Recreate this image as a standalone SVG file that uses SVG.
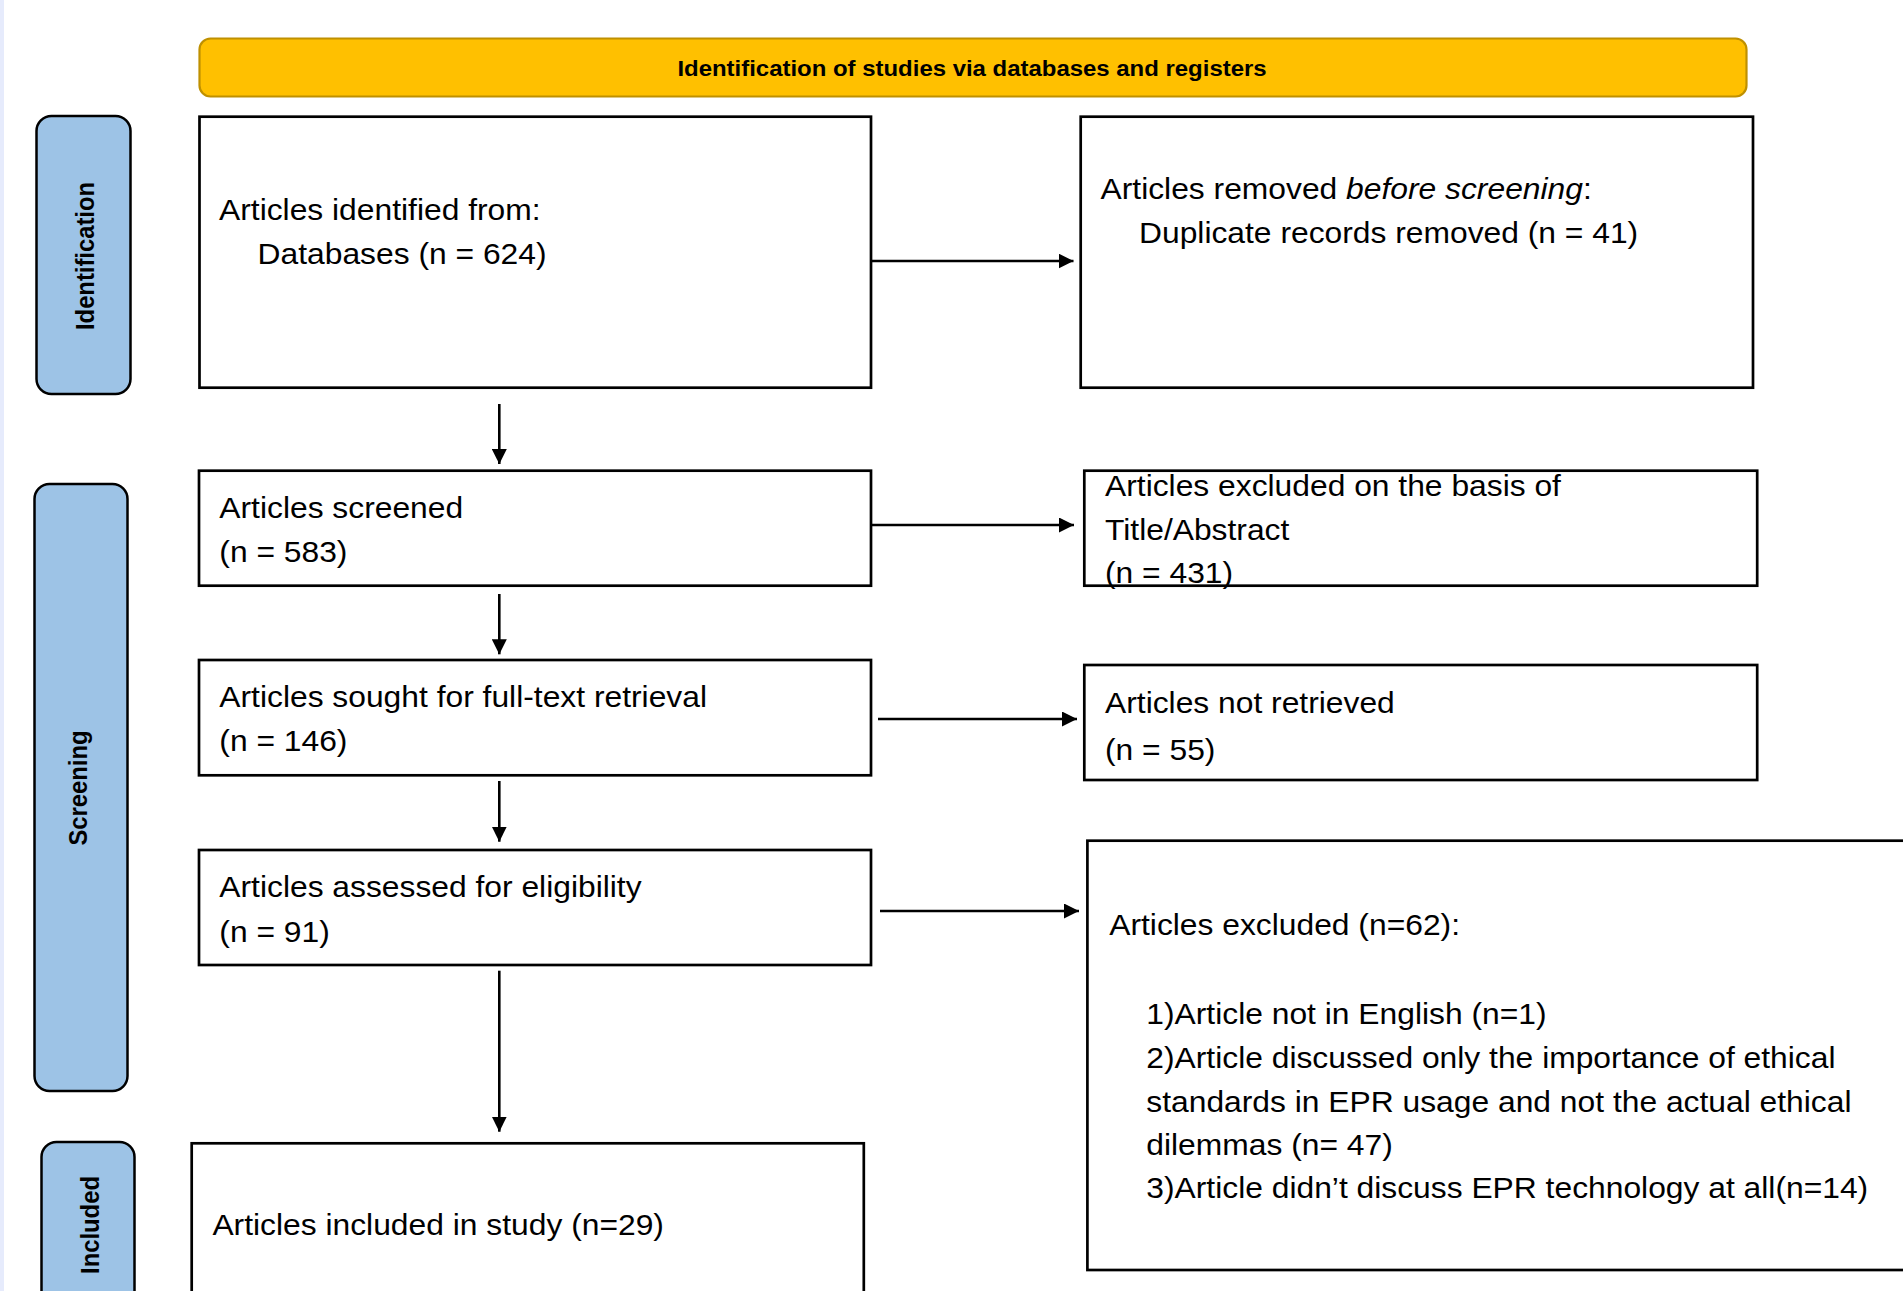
<svg xmlns="http://www.w3.org/2000/svg" width="1903" height="1291" viewBox="0 0 1903 1291">
  <style>
    .box { fill: #ffffff; stroke: #000000; stroke-width: 2.7; }
    .side { fill: #9dc3e6; stroke: #000000; stroke-width: 2.5; }
    .bar { fill: #ffc000; stroke: #bf9000; stroke-width: 2.2; }
    .t { font-family: "Liberation Sans", Arial, sans-serif; font-size: 30px; fill: #000000; }
    .lbl { font-family: "Liberation Sans", Arial, sans-serif; font-size: 23.8px; font-weight: bold; fill: #000000; text-anchor: middle; }
    .ttl { font-family: "Liberation Sans", Arial, sans-serif; font-size: 22.6px; font-weight: bold; fill: #000000; text-anchor: middle; }
    .con { stroke: #000000; stroke-width: 2.6; fill: none; marker-end: url(#ah); }
  </style>
  <defs>
    <marker id="ah" markerUnits="userSpaceOnUse" markerWidth="15" markerHeight="15" refX="15" refY="7.5" orient="auto">
      <path d="M0,0 L15,7.5 L0,15 Z" fill="#000000"/>
    </marker>
  </defs>

  <rect x="0" y="0" width="1903" height="1291" fill="#ffffff"/>
  <rect x="0" y="0" width="4" height="1291" fill="#e6ebfc"/>

  <g id="header">
    <rect class="bar" x="199.5" y="38.5" width="1547" height="58" rx="11" ry="11"/>
    <text class="ttl" transform="translate(972,76) scale(1.06,1)">Identification of studies via databases and registers</text>
  </g>

  <g id="stage-identification">
    <rect class="side" x="36.5" y="116" width="94" height="278" rx="15" ry="15"/>
    <text class="lbl" transform="translate(94,256) scale(1.06,1) rotate(-90)">Identification</text>
  </g>
  <g id="stage-screening">
    <rect class="side" x="34.5" y="484" width="93" height="607" rx="15" ry="15"/>
    <text class="lbl" transform="translate(87,788) scale(1.06,1) rotate(-90)">Screening</text>
  </g>
  <g id="stage-included">
    <rect class="side" x="41.5" y="1142" width="93" height="180" rx="15" ry="15"/>
    <text class="lbl" transform="translate(99,1225) scale(1.06,1) rotate(-90)">Included</text>
  </g>

  <g id="identified">
    <rect class="box" x="199.5" y="116.7" width="671.5" height="271"/>
    <text class="t" transform="translate(219,220) scale(1.06,1)">Articles identified from:</text>
    <text class="t" transform="translate(257.6,264.3) scale(1.06,1)">Databases (n = 624)</text>
  </g>

  <g id="removed">
    <rect class="box" x="1080.7" y="116.7" width="672.3" height="271"/>
    <text class="t" transform="translate(1100.5,199) scale(1.06,1)">Articles removed <tspan font-style="italic">before screening</tspan>:</text>
    <text class="t" transform="translate(1139,242.5) scale(1.06,1)">Duplicate records removed (n = 41)</text>
  </g>

  <g id="screened">
    <rect class="box" x="199" y="470.7" width="672" height="115"/>
    <text class="t" transform="translate(219.3,518.3) scale(1.06,1)">Articles screened</text>
    <text class="t" transform="translate(219.3,561.7) scale(1.06,1)">(n = 583)</text>
  </g>

  <g id="excluded-title-abstract">
    <rect class="box" x="1084.3" y="470.7" width="672.9" height="115"/>
    <text class="t" transform="translate(1105,496) scale(1.06,1)">Articles excluded on the basis of</text>
    <text class="t" transform="translate(1105,540.3) scale(1.06,1)">Title/Abstract</text>
    <text class="t" transform="translate(1105,582.5) scale(1.06,1)">(n = 431)</text>
  </g>

  <g id="sought">
    <rect class="box" x="199" y="660" width="672" height="115.3"/>
    <text class="t" transform="translate(219.3,707.3) scale(1.06,1)">Articles sought for full-text retrieval</text>
    <text class="t" transform="translate(219.3,750.7) scale(1.06,1)">(n = 146)</text>
  </g>

  <g id="not-retrieved">
    <rect class="box" x="1084.3" y="665" width="672.9" height="115"/>
    <text class="t" transform="translate(1105,712.7) scale(1.06,1)">Articles not retrieved</text>
    <text class="t" transform="translate(1105,760) scale(1.06,1)">(n = 55)</text>
  </g>

  <g id="assessed">
    <rect class="box" x="199" y="850" width="672" height="115"/>
    <text class="t" transform="translate(219.3,896.5) scale(1.06,1)">Articles assessed for eligibility</text>
    <text class="t" transform="translate(219.3,941.5) scale(1.06,1)">(n = 91)</text>
  </g>

  <g id="excluded-full-text">
    <rect class="box" x="1087.4" y="840.7" width="840" height="429.3"/>
    <text class="t" transform="translate(1109.2,935) scale(1.06,1)">Articles excluded (n=62):</text>
    <text class="t" transform="translate(1146.3,1024) scale(1.06,1)">1)Article not in English (n=1)</text>
    <text class="t" transform="translate(1146.3,1068.3) scale(1.06,1)">2)Article discussed only the importance of ethical</text>
    <text class="t" transform="translate(1146.3,1111.7) scale(1.06,1)">standards in EPR usage and not the actual ethical</text>
    <text class="t" transform="translate(1146.3,1155) scale(1.06,1)">dilemmas (n= 47)</text>
    <text class="t" transform="translate(1146.3,1198.3) scale(1.06,1)">3)Article didn’t discuss EPR technology at all(n=14)</text>
  </g>

  <g id="included">
    <rect class="box" x="191.7" y="1143.3" width="672.1" height="180"/>
    <text class="t" transform="translate(212.4,1235) scale(1.06,1)">Articles included in study (n=29)</text>
  </g>

  <g id="connectors">
    <line class="con" x1="871" y1="261" x2="1073.5" y2="261"/>
    <line class="con" x1="499.3" y1="404" x2="499.3" y2="464"/>
    <line class="con" x1="871" y1="525" x2="1074" y2="525"/>
    <line class="con" x1="499.3" y1="594" x2="499.3" y2="654.3"/>
    <line class="con" x1="878" y1="719" x2="1077" y2="719"/>
    <line class="con" x1="499.3" y1="781" x2="499.3" y2="841.7"/>
    <line class="con" x1="880" y1="911" x2="1079" y2="911"/>
    <line class="con" x1="499.3" y1="970.7" x2="499.3" y2="1131.7"/>
  </g>
</svg>
